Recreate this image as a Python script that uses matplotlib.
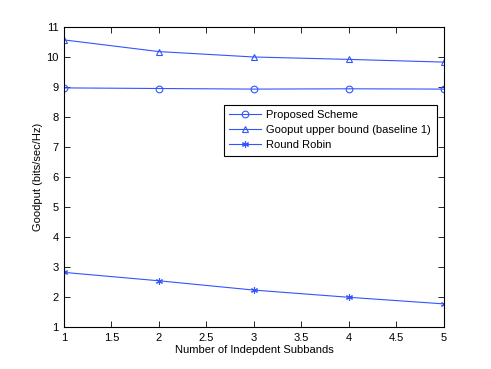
import matplotlib
matplotlib.use('Agg')
import matplotlib.pyplot as plt

plt.rcParams['font.family'] = ['Liberation Sans', 'DejaVu Sans']

subbands = [1, 2, 3, 4, 5]
proposed = [8.97, 8.95, 8.93, 8.94, 8.93]
upper_bound = [10.57, 10.18, 10.00, 9.92, 9.83]
round_robin = [2.82, 2.54, 2.23, 1.99, 1.77]

fig = plt.figure(figsize=(4.91, 3.69), dpi=100)
ax = fig.add_axes([64 / 491, 1 - 327 / 369, 380 / 491, 300 / 369])

col = '#3355ff'
ax.plot(subbands, proposed, color=col, lw=0.8, marker='o', ms=4.8, mfc='none', mew=0.8,
        label='Proposed Scheme')
ax.plot(subbands, upper_bound, color=col, lw=0.8, marker='^', ms=5, mfc='none', mew=0.8,
        label='Gooput upper bound (baseline 1)')
ax.plot(subbands, round_robin, color=col, lw=0.8, marker=(6, 2, 0), ms=5, mew=0.8,
        label='Round Robin')

ax.set_xlim(1, 5)
ax.set_ylim(1, 11)
ax.set_xticks([1, 1.5, 2, 2.5, 3, 3.5, 4, 4.5, 5])
ax.set_xticklabels(['1', '1.5', '2', '2.5', '3', '3.5', '4', '4.5', '5'])
ax.set_yticks(range(1, 12))
ax.tick_params(direction='in', top=True, right=True, labelsize=8, length=4, width=0.6, pad=4)
for s in ax.spines.values():
    s.set_linewidth(0.8)

ax.set_xlabel('Number of Indepdent Subbands', fontsize=8, labelpad=2)
ax.set_ylabel('Goodput (bits/sec/Hz)', fontsize=8, labelpad=2)

leg = ax.legend(loc='upper right', bbox_to_anchor=(0.9895, 0.752), fontsize=8, fancybox=False,
                edgecolor='black', framealpha=1, borderpad=0.5, labelspacing=0.45,
                handlelength=2.9, handletextpad=0.45, borderaxespad=0.3)
leg.get_frame().set_linewidth(0.8)

fig.savefig('out.png', dpi=100)
